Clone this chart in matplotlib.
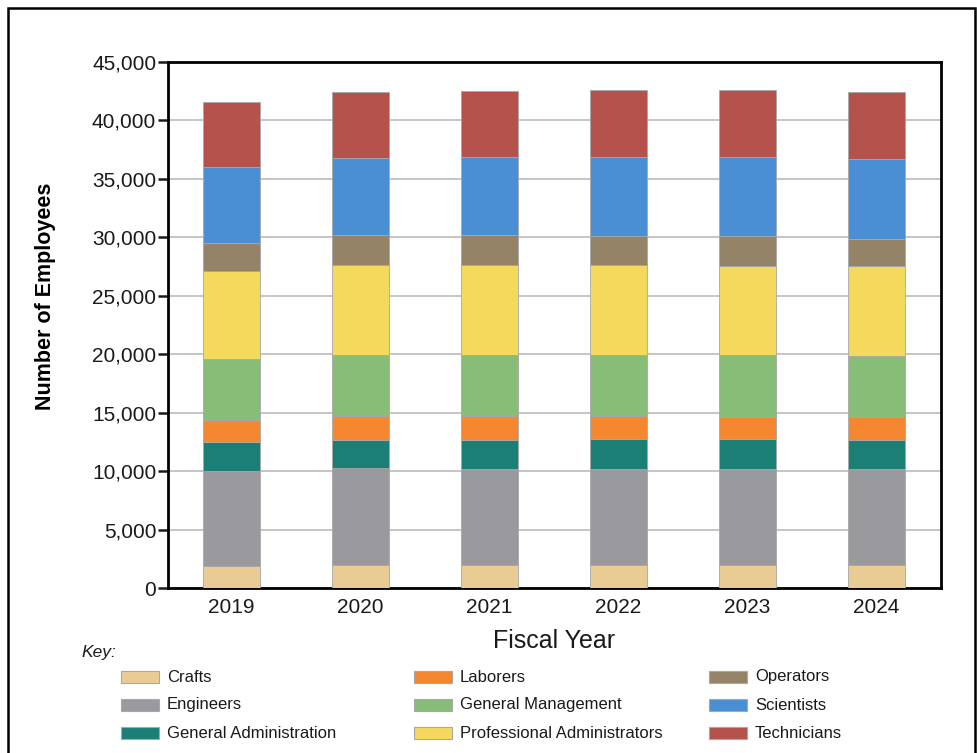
import matplotlib
matplotlib.use("Agg")
import numpy as np
import matplotlib.pyplot as plt
from matplotlib.patches import Rectangle

plt.rcParams["font.family"] = ["Liberation Sans", "DejaVu Sans"]

# ── data ──────────────────────────────────────────────
years = ["2019", "2020", "2021", "2022", "2023", "2024"]
categories = ["Crafts", "Engineers", "General Administration",
              "Laborers", "General Management", "Professional Administrators",
              "Operators", "Scientists", "Technicians"]
crafts        = [1910, 2000, 2000, 1950, 1950, 2000]
engineers     = [8090, 8250, 8150, 8250, 8250, 8150]
gen_admin     = [2530, 2450, 2550, 2560, 2560, 2550]
laborers      = [1850, 2010, 2010, 1980, 1890, 1890]
gen_mgmt      = [5210, 5230, 5230, 5200, 5290, 5290]
prof_admin    = [7510, 7690, 7690, 7660, 7630, 7630]
operators     = [2370, 2520, 2520, 2520, 2520, 2350]
scientists    = [6560, 6610, 6700, 6730, 6760, 6810]
technicians   = [5520, 5670, 5660, 5710, 5710, 5780]

colors = ["#E9CC93", "#9A9A9E", "#1B7F76",
          "#F4872F", "#88BD78", "#F5D95C",
          "#948366", "#4A8FD3", "#B5524B"]

series = [crafts, engineers, gen_admin, laborers, gen_mgmt,
          prof_admin, operators, scientists, technicians]

fig = plt.figure(figsize=(9.77, 7.53), dpi=100)
ax = fig.add_axes([0.172, 0.219, 0.791, 0.699])

x = np.arange(len(years))
bottom = np.zeros(len(years))
for vals, col in zip(series, colors):
    ax.bar(x, vals, width=0.44, bottom=bottom, color=col,
           edgecolor="#A8A8A8", linewidth=0.6, zorder=3)
    bottom += np.array(vals)

ax.set_xlim(-0.49, 5.5)
ax.set_ylim(0, 45000)
ax.set_yticks(np.arange(0, 45001, 5000))
ax.set_yticklabels([f"{v:,}" for v in range(0, 45001, 5000)], fontsize=15)
ax.set_xticks(x)
ax.set_xticklabels(years, fontsize=15)
ax.yaxis.grid(True, color="#BBBBBB", linewidth=1.2, zorder=0)
ax.tick_params(axis="y", length=7, width=1.8, pad=1.5, colors="#1a1a1a")
ax.tick_params(axis="x", length=0, pad=7, colors="#1a1a1a")
for s in ax.spines.values():
    s.set_linewidth(2)

ax.set_ylabel("Number of Employees", fontsize=15.5, fontweight="bold")
ax.yaxis.set_label_coords(-0.145, 0.555)
ax.set_xlabel("Fiscal Year", fontsize=18, labelpad=9, color="#1a1a1a")

# outer frame
fig.add_artist(Rectangle((0.008, -0.05), 0.99, 1.04, transform=fig.transFigure,
                         fill=False, edgecolor="black", linewidth=1.8))

# key
W, H = 977.0, 753.0
fig.text(81 / W, 1 - 652 / H, "Key:", fontsize=12.5, style="italic",
         va="center", ha="left", color="#1a1a1a")
col_x = [121, 414, 709]
row_y = [677, 705, 733]
for i, (name, col) in enumerate(zip(categories, colors)):
    cx = col_x[i // 3]
    cy = row_y[i % 3]
    fig.add_artist(Rectangle((cx / W, 1 - (cy + 6) / H), 38 / W, 12 / H,
                             transform=fig.transFigure, facecolor=col,
                             edgecolor="#A8A8A8", linewidth=0.8))
    fig.text((cx + 46) / W, 1 - cy / H, name, fontsize=12,
             va="center", ha="left", color="#1a1a1a")

fig.savefig("out.png", dpi=100)
